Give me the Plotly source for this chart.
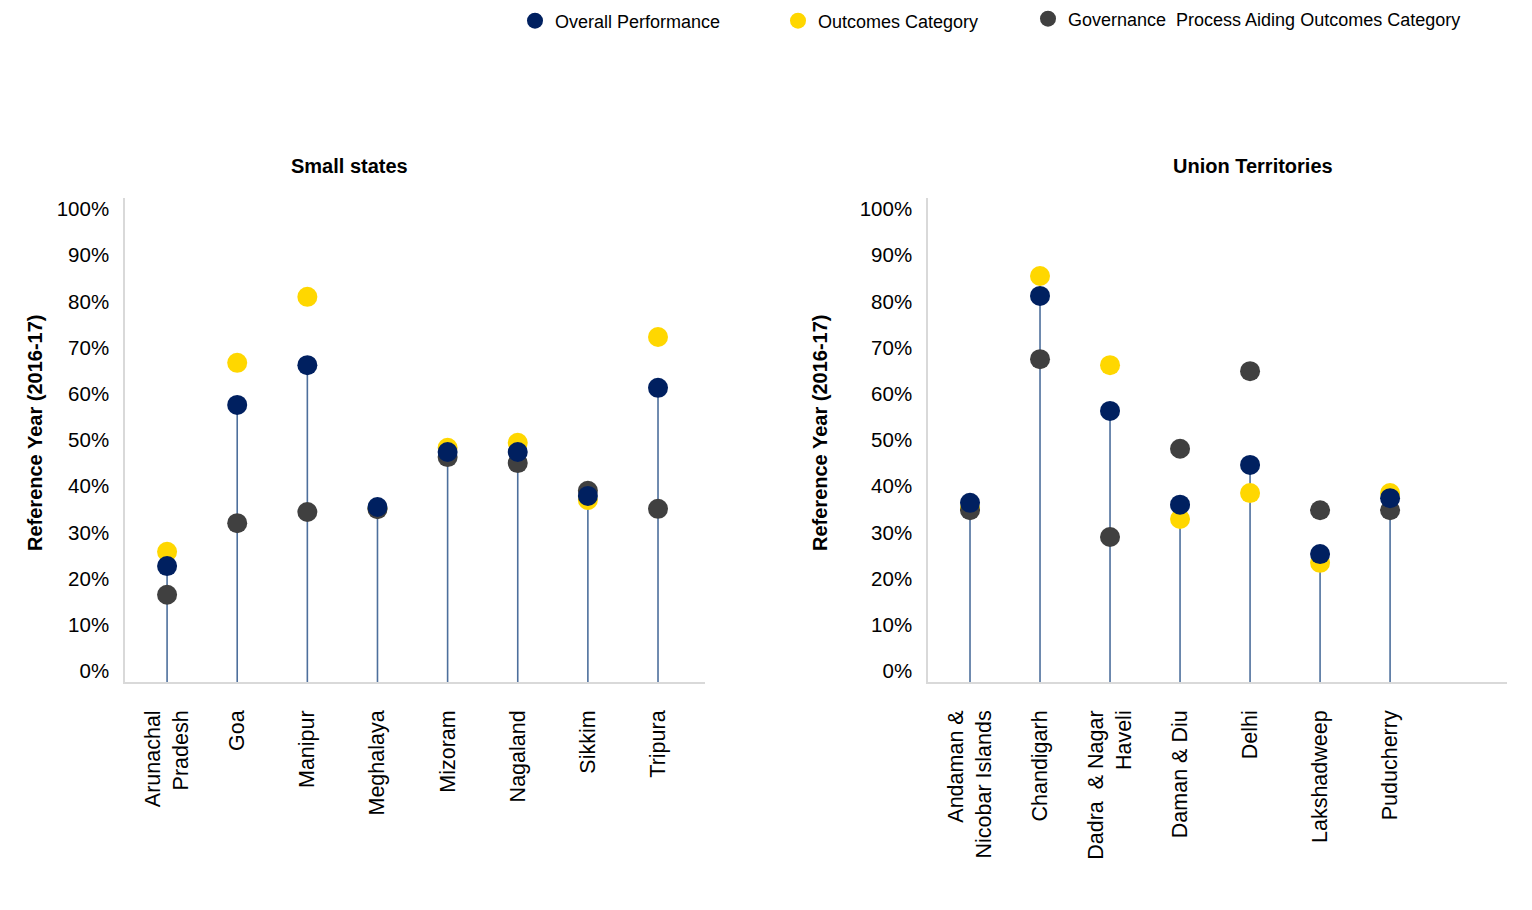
import plotly.graph_objects as go

# ---------------- data ----------------
small_states = ["Arunachal<br>Pradesh", "Goa", "Manipur", "Meghalaya",
                "Mizoram", "Nagaland", "Sikkim", "Tripura"]
ss_overall = [22.7, 57.6, 66.2, 35.5, 47.4, 47.4, 37.9, 61.3]
ss_outcomes = [25.8, 66.7, 81.0, 35.2, 48.3, 49.4, 37.0, 72.3]
ss_governance = [16.5, 32.0, 34.4, 35.0, 46.3, 45.0, 39.0, 35.1]

union_territories = ["Andaman &<br>Nicobar Islands", "Chandigarh", "Dadra  & Nagar<br>Haveli",
                     "Daman & Diu", "Delhi", "Lakshadweep", "Puducherry"]
ut_overall = [36.4, 81.2, 56.3, 36.0, 44.6, 25.3, 37.4]
ut_outcomes = [35.4, 85.5, 66.2, 32.9, 38.5, 23.4, 38.5]
ut_governance = [34.8, 67.5, 29.0, 48.1, 64.9, 34.8, 34.8]

series_names = ["Overall Performance", "Outcomes Category",
                "Governance  Process Aiding Outcomes Category"]
y_ticks = [0, 10, 20, 30, 40, 50, 60, 70, 80, 90, 100]
y_tick_labels = [f"{v}%" for v in y_ticks]

# ---------------- styling ----------------
OFF = 8                      # page body margin
W, H = 1532 - 2 * OFF, 910 - 2 * OFF
NAVY = "#002060"
YELLOW = "#FFD700"
GRAY = "#404040"
STEM = "#4d6f9c"
FONT = "Liberation Sans, Arial, sans-serif"
Y_RANGE = [-2.4, 102.4]
X_RANGE = [-0.6, 7.67]
BASE = Y_RANGE[0]

def px_x(p):
    return (p - OFF) / W

def px_y(p):
    return 1 - (p - OFF) / H

fig = go.Figure()

def add_panel(cats, overall, outcomes, gov, xa, ya, show_legend):
    idx = list(range(len(cats)))
    sx, sy = [], []
    for i, v in zip(idx, overall):
        sx += [i, i, None]
        sy += [BASE, v, None]
    fig.add_trace(go.Scatter(x=sx, y=sy, mode="lines", xaxis=xa, yaxis=ya,
                             line=dict(color=STEM, width=1.6),
                             showlegend=False, hoverinfo="skip"))
    specs = [
        (outcomes, YELLOW, series_names[1], "legend2"),
        (gov, GRAY, series_names[2], "legend3"),
        (overall, NAVY, series_names[0], "legend"),
    ]
    for vals, col, name, leg in specs:
        fig.add_trace(go.Scatter(
            x=idx, y=vals, mode="markers", xaxis=xa, yaxis=ya, name=name,
            legendgroup=name, showlegend=show_legend, legend=leg,
            marker=dict(size=20, color=col, line=dict(width=0)),
            customdata=[c.replace("<br>", " ") for c in cats],
            hovertemplate="%{customdata}<br>" + name + ": %{y:.1f}%<extra></extra>",
        ))

add_panel(small_states, ss_overall, ss_outcomes, ss_governance, "x", "y", True)
add_panel(union_territories, ut_overall, ut_outcomes, ut_governance, "x2", "y2", False)

axis_common_y = dict(
    range=Y_RANGE, tickvals=y_ticks, ticktext=y_tick_labels,
    showgrid=False, zeroline=False, showline=True, linecolor="#d9d9d9", linewidth=1.5,
    tickfont=dict(family=FONT, size=20.5, color="#000000"), ticks="",
    ticklabelstandoff=10, fixedrange=True,
)
axis_common_x = dict(
    range=X_RANGE, showgrid=False, zeroline=False, showline=True,
    linecolor="#d9d9d9", linewidth=1.5, ticks="", tickangle=-90,
    tickfont=dict(family=FONT, size=21.5, color="#000000"),
    ticklabelstandoff=18, fixedrange=True,
)

y_dom = [px_y(682), px_y(198)]
legend_common = dict(yanchor="middle", xanchor="left", orientation="h",
                     font=dict(family=FONT, size=18), bgcolor="rgba(0,0,0,0)")
fig.update_layout(
    width=W, height=H,
    margin=dict(l=0, r=0, t=0, b=0, autoexpand=False),
    paper_bgcolor="#ffffff", plot_bgcolor="#ffffff",
    font=dict(family=FONT, color="#000000"),
    xaxis=dict(domain=[px_x(125), px_x(705)],
               tickvals=list(range(len(small_states))), ticktext=small_states,
               anchor="y", **axis_common_x),
    yaxis=dict(domain=y_dom, anchor="x", **axis_common_y),
    xaxis2=dict(domain=[px_x(928), px_x(1507)],
                tickvals=list(range(len(union_territories))), ticktext=union_territories,
                anchor="y2", **axis_common_x),
    yaxis2=dict(domain=y_dom, anchor="x2", **axis_common_y),
    legend=dict(x=px_x(515), y=px_y(21), **legend_common),
    legend2=dict(x=px_x(778), y=px_y(21), **legend_common),
    legend3=dict(x=px_x(1028), y=px_y(19), **legend_common),
    hovermode="closest",
)

annotations = [
    dict(text="<b>Small states</b>", x=px_x(349), y=px_y(166)),
    dict(text="<b>Union Territories</b>", x=px_x(1253), y=px_y(166)),
]
for a in annotations:
    a.update(xref="paper", yref="paper", showarrow=False, xanchor="center", yanchor="middle",
             font=dict(family=FONT, size=20, color="#000000"))
    fig.add_annotation(**a)

for xp in (35, 820):
    fig.add_annotation(text="<b>Reference Year (2016-17)</b>", textangle=-90,
                       x=px_x(xp), y=px_y(433), xref="paper", yref="paper",
                       showarrow=False, xanchor="center", yanchor="middle",
                       font=dict(family=FONT, size=20, color="#000000"))

fig.write_html("out.html")
